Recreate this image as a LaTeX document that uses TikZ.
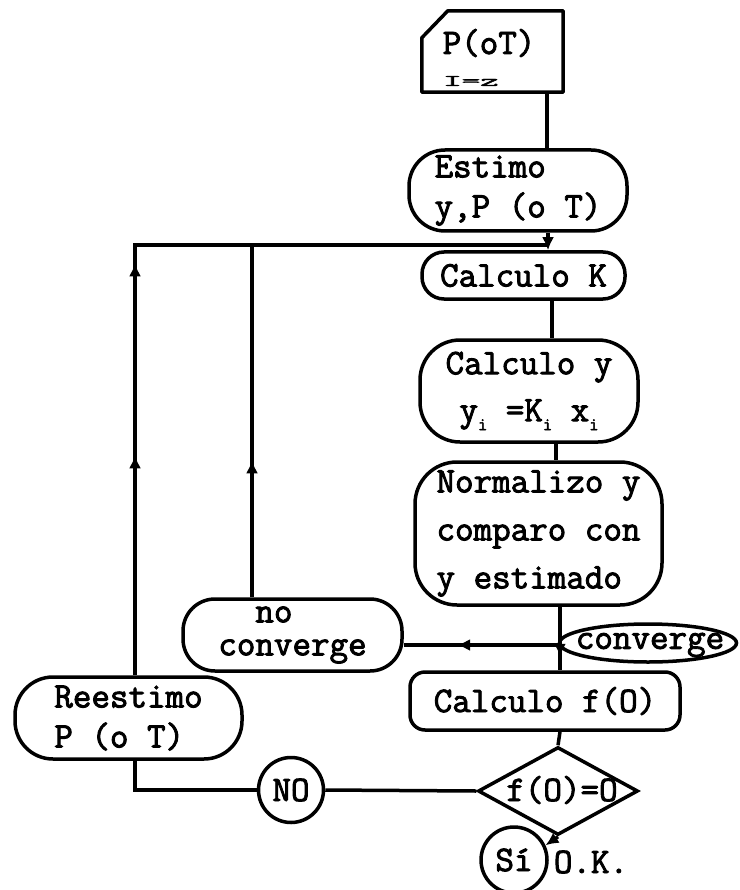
\documentclass[tikz,border=0pt]{standalone}
\usepackage{fontspec}
\newfontfamily\mono{Latin Modern Mono}[FakeBold=2.5]
\usetikzlibrary{shapes.geometric,arrows.meta,decorations.markings}
\newcommand\sbi{\raisebox{-9pt}{\fontsize{18}{18}\selectfont i}}
\tikzset{
  ln/.style={line width=3.5pt},
  tipmark/.style={postaction={decorate},decoration={markings,mark=at position #1 with {\arrow{Latex[length=13pt,width=12pt]}}}},
  box/.style={draw, line width=3.5pt, rounded corners=#1, inner sep=0pt, align=left,
    font=\mono\fontsize{36}{40}\selectfont},
  box/.default=30pt,
  lbl/.style={inner sep=0pt, font=\mono\fontsize{36}{40}\selectfont},
  circ/.style={draw, circle, line width=3.5pt, inner sep=0pt, font=\mono\fontsize{36}{40}\selectfont},
  cardbox/.style={rectangle, inner sep=0pt, minimum width=141pt, minimum height=81pt},
  tiparrow/.style={-{Latex[length=13pt,width=12pt]}}
}
\begin{document}
\begin{tikzpicture}[x=1pt,y=-1pt]
\useasboundingbox (0,0) rectangle (739,890);
% column coordinates
\coordinate (x1) at (547,0);
\coordinate (x2) at (548,0);
\coordinate (x3) at (552,0);
\coordinate (x4) at (556,0);
\coordinate (x5) at (560,0);
\coordinate (xl) at (135,0);
\coordinate (xn) at (252,0);
\coordinate (fb) at (548,245);
\coordinate (j) at (560,645);
% nodes
\node[cardbox] (card) at (492.5,51.5) {};
\draw[ln, line join=round] (card.north east) -- (card.south east) -- (card.south west)
  -- ([yshift=-27pt]card.north west) -- ([xshift=26pt]card.north west) -- cycle;
\node[lbl] (cardt) at (489,43) {P(oT)};
\node[lbl] (cardi) at (471,81) {\scalebox{1}[0.45]{I=z}};
\node[box=36pt, minimum width=218pt, minimum height=81pt] (est) at (518,190.5) {Estimo\\y,P (o T)};
\node[box=22pt, minimum width=203pt, minimum height=47pt] (k) at (523.5,275.5) {Calculo K};
\node[box=40pt, minimum width=218pt, minimum height=102pt, align=center,
  font=\mono\fontsize{36}{47}\selectfont] (cy) at (529,391) {Calculo y\\y\sbi\ =K\sbi\ x\sbi};
\node[box=42pt, minimum width=247pt, minimum height=143pt,
  font=\mono\fontsize{36}{48}\selectfont] (norm) at (538.5,533.5) {Normalizo y\\comparo con\\y estimado};
\node[draw, ellipse, line width=3.5pt, inner sep=0pt, minimum width=177pt, minimum height=38pt] (conv) at (648,643) {};
\node[lbl] (convt) at (650,645) {converge};
\node[box=32pt, minimum width=219pt, minimum height=72pt,
  font=\mono\fontsize{36}{33}\selectfont] (nc) at (292.5,635) {\ \ no\\converge};
\node[box=15pt, minimum width=270pt, minimum height=58pt] (calcf) at (545,701) {Calculo f(O)};
\node[draw, diamond, line width=3.5pt, inner sep=0pt, minimum width=160pt, minimum height=88pt] (dia) at (558,791) {};
\node[lbl] (diat) at (562,790) {f(O)=O};
\node[box=38pt, minimum width=227pt, minimum height=82pt] (reest) at (128.5,718) {Reestimo\\P (o T)};
\node[circ, minimum size=65pt] (no) at (291,790) {NO};
\node[circ, minimum size=66pt] (si) at (514,860) {Sí};
\node[lbl] (ok) at (591,862) {O.K.};
% connectors
\draw[ln] (card.south -| x1) -- (est.north -| x1);
\draw[ln, tiparrow] (est.south -| x2) -- (k.north -| x2);
\draw[ln] (k.south -| x3) -- (cy.north -| x3);
\draw[ln] (cy.south -| x4) -- (norm.north -| x4);
\draw[ln, tipmark=50pt] (norm.south -| x5) -- (calcf.north -| x5);
\draw[ln] (calcf.south -| x5) -- (dia.north);
\draw[ln, tipmark=103pt] (j) -- (j -| nc.east);
\draw[ln, postaction={decorate}, decoration={markings,
    mark=at position 220pt with {\arrow{Latex[length=13pt,width=12pt]}},
    mark=at position 412pt with {\arrow{Latex[length=13pt,width=12pt]}}}]
  (reest.north -| xl) |- (fb);
\draw[ln, tipmark=137pt] (nc.north -| xn) -- (xn |- fb);
\draw[ln] (reest.south -| xl) |- (no.west);
\draw[ln] (no.east) -- (dia.west);
\draw[ln, tiparrow] (dia.south) -- (si.25);
\end{tikzpicture}
\end{document}
